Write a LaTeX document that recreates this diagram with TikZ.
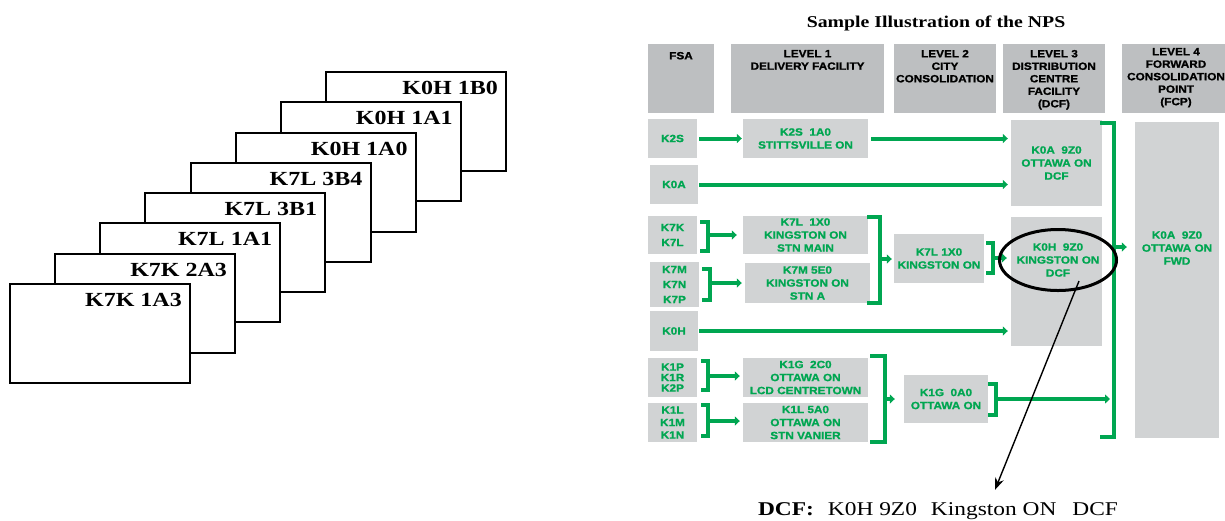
\documentclass[tikz,border=0pt]{standalone}
\usepackage{fontspec}
\setmainfont{Liberation Serif}[FakeStretch=1.2]
\newfontfamily\npsfont{Liberation Sans}[FakeStretch=1.12, BoldFeatures={FakeBold=1.2}]
\usetikzlibrary{arrows.meta, positioning, shapes.geometric}
\definecolor{npsgreen}{HTML}{00A651}
\definecolor{boxgray}{HTML}{D1D3D4}
\definecolor{headgray}{HTML}{BDBFC1}
\tikzset{
    card/.style={draw, line width=2pt, fill=white, minimum width=180pt, minimum height=99pt, inner sep=0pt},
    cardlbl/.style={anchor=north east, inner sep=0pt, xshift=-9pt, yshift=-10pt, font=\bfseries\fontsize{20}{24}\selectfont},
    headbox/.style={fill=headgray, inner sep=0pt, minimum height=69pt},
    headlbl/.style={anchor=north, inner sep=0pt, yshift=-6pt, align=center, font=\npsfont\bfseries\fontsize{10.5}{12.5}\selectfont},
    gtext/.style={text=npsgreen, align=center, inner sep=0pt, font=\npsfont\bfseries\fontsize{10.5}{13}\selectfont},
    fsabox/.style={gtext, fill=boxgray, minimum width=49pt},
    facbox/.style={gtext, fill=boxgray},
    gline/.style={draw=npsgreen, line width=4pt},
    garrow/.style={gline, -{Triangle[length=5pt, width=9pt]}},
    ptrarrow/.style={draw=black, line width=1.4pt, -{Stealth[length=12pt, width=9pt]}}
}
% bracket: name, x, width, top, bottom, y of the way out
\newcommand{\GreenBracket}[6]{
    \draw[gline] (#2,#4) -- (#2+#3,#4) -- (#2+#3,#5) -- (#2,#5);
    \coordinate (#1) at (#2+#3,#6);
}

\begin{document}
\begin{tikzpicture}[x=1pt, y=-1pt]
    \useasboundingbox (0,0) rectangle (1225,520);

    % pile of postal codes, back to front
    \foreach \i/\lbl in {7/K0H 1B0, 6/K0H 1A1, 5/K0H 1A0, 4/K7L 3B4, 3/K7L 3B1, 2/K7L 1A1, 1/K7K 2A3, 0/K7K 1A3} {
        \node[card, label={[cardlbl]north east:\lbl}] (c\i) at (100+45.14*\i, 333.5-30.29*\i) {};
    }

    \node[font=\bfseries\fontsize{16.5}{20}\selectfont, anchor=base] (title) at (936,27) {Sample Illustration of the NPS};

    % column heads
    \node[headbox, minimum width=66pt, label={[headlbl, yshift=-2pt]north:FSA}] (hfsa) at (681,78.5) {};
    \node[headbox, minimum width=153pt, label={[headlbl]north:{LEVEL 1\\DELIVERY FACILITY}}] (hl1) at (807.5,78.5) {};
    \node[headbox, minimum width=102pt, label={[headlbl]north:{LEVEL 2\\CITY\\CONSOLIDATION}}] (hl2) at (945,78.5) {};
    \node[headbox, minimum width=102pt, label={[headlbl]north:{LEVEL 3\\DISTRIBUTION\\CENTRE\\FACILITY\\(DCF)}}] (hl3) at (1054,78.5) {};
    \node[headbox, minimum width=108pt, label={[headlbl, yshift=2pt]north:{LEVEL 4\\FORWARD\\CONSOLIDATION\\POINT\\(FCP)}}] (hl4) at (1176,78.5) {};

    % FSA
    \node[fsabox, minimum height=39pt] (fK2S) at (672.5,138.5) {K2S};
    \node[fsabox, minimum width=48pt, minimum height=39pt] (fK0A) at (674,184.5) {K0A};
    \node[fsabox, minimum height=38pt] (fK7K) at (672.5,235) {K7K\\[2pt]K7L};
    \node[fsabox, minimum height=45pt] (fK7M) at (674.5,284.5) {K7M\\[2pt]K7N\\[2pt]K7P};
    \node[fsabox, minimum width=48pt, minimum height=40pt] (fK0H) at (674,331) {K0H};
    \node[fsabox, minimum height=39pt] (fK1P) at (672.5,377.5) {K1P\\[-2.5pt]K1R\\[-2.5pt]K2P};
    \node[fsabox, minimum height=39pt] (fK1L) at (672.5,422.5) {K1L\\[-0.5pt]K1M\\[-0.5pt]K1N};

    % level 1
    \node[facbox, minimum width=125pt, minimum height=39pt] (dK2S) at (805.5,138.5) {K2S\ \ 1A0\\STITTSVILLE ON};
    \node[facbox, minimum width=125pt, minimum height=38pt] (dK7L) at (805.5,235) {K7L\ \ 1X0\\KINGSTON ON\\STN MAIN};
    \node[facbox, minimum width=125pt, minimum height=40pt] (dK7M) at (807.5,283) {K7M 5E0\\KINGSTON ON\\STN A};
    \node[facbox, minimum width=125pt, minimum height=39pt] (dK1G) at (805.5,377.5) {K1G\ \ 2C0\\OTTAWA ON\\LCD CENTRETOWN};
    \node[facbox, minimum width=125pt, minimum height=39pt] (dK1L) at (805.5,422.5) {K1L 5A0\\OTTAWA ON\\STN VANIER};

    % level 2
    \node[facbox, minimum width=90pt, minimum height=49pt] (cK7L) at (939,258.5) {K7L 1X0\\KINGSTON ON};
    \node[facbox, minimum width=84pt, minimum height=48pt] (cK1G) at (946,399) {K1G\ \ 0A0\\OTTAWA ON};

    % level 3 and 4
    \node[facbox, minimum width=91pt, minimum height=86pt] (tK0A) at (1056.5,163) {K0A\ \ 9Z0\\OTTAWA ON\\DCF};
    \node[facbox, minimum width=91pt, minimum height=129pt] (tK0H) at (1056.5,281.5) {};
    \node[facbox, minimum width=84pt, minimum height=316pt, label={[gtext, yshift=32pt]center:{K0A\ \ 9Z0\\OTTAWA ON\\FWD}}] (fwd) at (1177,280) {};

    % straight runs
    \draw[garrow, shorten <=2pt, shorten >=1pt] (fK2S) -- (dK2S);
    \draw[garrow, shorten <=3pt, shorten >=3pt] (dK2S) -- (dK2S -| tK0A.west);
    \draw[garrow, shorten <=1pt, shorten >=3pt] (fK0A) -- (fK0A -| tK0A.west);
    \draw[garrow, shorten <=1pt, shorten >=3pt] (fK0H) -- (fK0H -| tK0H.west);

    % brackets
    \GreenBracket{bK7K}{700}{8}{222}{251}{235}
    \GreenBracket{bK7M}{702}{8}{269}{300}{283}
    \GreenBracket{bK1P}{701}{7}{361}{390}{376}
    \GreenBracket{bK1L}{701}{7}{405}{436}{421}
    \GreenBracket{bL1a}{867}{13}{217}{303}{259}
    \GreenBracket{bL1b}{870}{15}{356}{442}{399}
    \GreenBracket{bC7L}{986}{7}{243}{273}{258}
    \GreenBracket{bC1G}{988}{8}{384}{415}{399}
    \GreenBracket{bL3}{1100}{14}{123}{437}{247}

    \draw[garrow, shorten >=6pt] (bK7K) -- (bK7K -| dK7L.west);
    \draw[garrow, shorten >=3pt] (bK7M) -- (bK7M -| dK7M.west);
    \draw[garrow, shorten >=3pt] (bK1P) -- (bK1P -| dK1G.west);
    \draw[garrow, shorten >=3pt] (bK1L) -- (bK1L -| dK1L.west);
    \draw[garrow, shorten >=2pt] (bL1a) -- (bL1a -| cK7L.west);
    \draw[garrow, shorten >=9pt] (bL1b) -- (bL1b -| cK1G.west);
    \draw[garrow, shorten >=4pt] (bC7L) -- (bC7L -| tK0H.west);
    \draw[garrow, shorten >=4pt] (bC1G) -- (bC1G -| bL3);
    \draw[garrow, shorten >=8pt] (bL3) -- (bL3 -| fwd.west);

    % the circled DCF
    \node[ellipse, draw=black, line width=3pt, minimum width=106pt, minimum height=61pt, gtext] (kdcf) at (1058,260) {K0H\ \ 9Z0\\KINGSTON ON\\DCF};

    \node[font=\fontsize{19.5}{23}\selectfont, anchor=base, inner sep=2pt] (note) at (938,515) {\textbf{DCF:}\hspace{14pt}K0H 9Z0\hspace{14pt}Kingston ON\hspace{16pt}DCF};
    \coordinate (ptrstart) at (1079,281);
    \draw[ptrarrow] (ptrstart) -- ([xshift=57pt, yshift=10pt]note.north);
\end{tikzpicture}
\end{document}
